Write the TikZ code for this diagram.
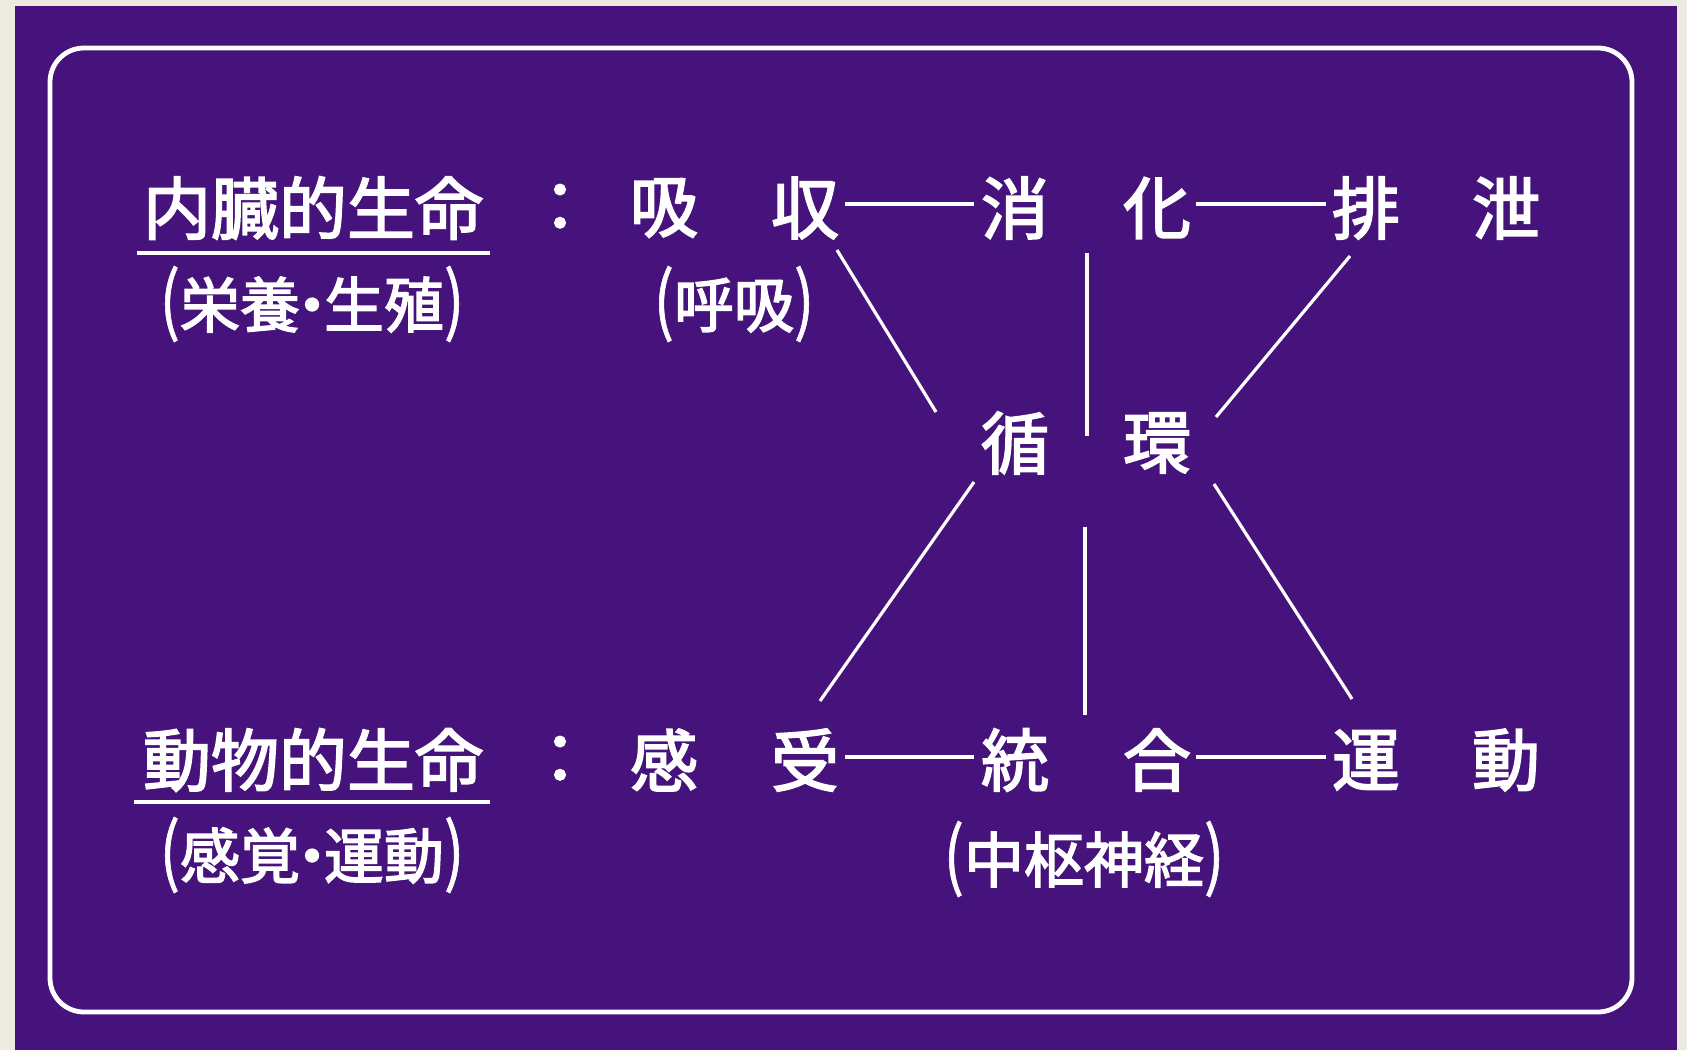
\documentclass[tikz,border=0pt]{standalone}
\usepackage{fontspec}
\newfontfamily\jp[FakeBold=2.5]{Noto Sans CJK JP}
\newfontfamily\jpthin[FakeBold=1]{Noto Sans CJK JP}
\usetikzlibrary{calc}
\definecolor{bgbeige}{RGB}{237,235,225}
\definecolor{deepviolet}{RGB}{70,19,124}
\newcommand{\lp}{{\jpthin\scalebox{1}[1.25]{(}}}
\newcommand{\rp}{{\jpthin\scalebox{1}[1.25]{)}}}
\begin{document}
\begin{tikzpicture}[x=0.5pt,y=-0.5pt,
  big/.style={text=white,font=\jp\fontsize{34pt}{34pt}\selectfont,inner sep=0pt},
  small/.style={text=white,font=\jp\fontsize{30pt}{30pt}\selectfont,inner sep=0pt},
  conn/.style={draw=white,line width=1.6pt},
  uline/.style={draw=white,line width=2pt},
  frame/.style={draw=white,line width=2.4pt,rounded corners=17pt}]
\useasboundingbox (0,0) rectangle (1687,1050);
\fill[bgbeige] (0,0) rectangle (1687,1050);
\fill[deepviolet] (15,6) rectangle (1677,1050);
\draw[frame] (50,48) rectangle (1632,1012);

% row 1
\node[big] (t1) at (313,208) {内臓的生命};
\node[small] (s1) at (312,304) {\lp 栄養\kern-0.3em・\kern-0.3em生殖\rp};
\draw[uline] (137,253) -- (490,253);
\node[big] (c1) at (560,208) {：};
\node[big] (kyu) at (664,208) {吸};
\node[big] (shu) at (805,208) {収};
\node[small] (kokyu) at (734,304) {\lp 呼吸\rp};
\node[big] (sho) at (1015,208) {消};
\node[big] (ka) at (1157,208) {化};
\node[big] (hai) at (1366,208) {排};
\node[big] (setsu) at (1506,208) {泄};

% middle
\node[big] (jun) at (1015,443) {循};
\node[big] (kan) at (1157,443) {環};

% row 2
\node[big] (t2) at (313,760) {動物的生命};
\node[small] (s2) at (312,855) {\lp 感覚\kern-0.3em・\kern-0.3em運動\rp};
\draw[uline] (134,802) -- (490,802);
\node[big] (c2) at (560,760) {：};
\node[big] (kan2) at (664,760) {感};
\node[big] (ju) at (805,760) {受};
\node[big] (to) at (1015,760) {統};
\node[big] (go) at (1157,760) {合};
\node[small] (chusu) at (1084,859) {\lp 中枢神経\rp};
\node[big] (un) at (1366,760) {運};
\node[big] (do) at (1506,760) {動};

% horizontal connectors
\draw[conn] ($(shu)+(40,-4)$) -- ($(sho)+(-41,-4)$);
\draw[conn] ($(ka)+(39,-4)$) -- ($(hai)+(-40,-4)$);
\draw[conn] ($(ju)+(40,-3)$) -- ($(to)+(-41,-3)$);
\draw[conn] ($(go)+(39,-3)$) -- ($(un)+(-40,-3)$);

% diagonal connectors
\draw[conn] ($(shu)+(32,42)$) -- ($(jun)+(-79,-31)$);
\draw[conn] ($(hai)+(-16,48)$) -- ($(kan)+(59,-26)$);
\draw[conn] ($(jun)+(-41,39)$) -- ($(ju)+(15,-59)$);
\draw[conn] ($(kan)+(57,41)$) -- ($(un)+(-14,-61)$);

% vertical connectors
\draw[conn] ($(sho)!0.5!(ka)+(1,45)$) -- ($(jun)!0.5!(kan)+(1,-7)$);
\draw[conn] ($(jun)!0.5!(kan)+(-1,84)$) -- ($(to)!0.5!(go)+(-1,-45)$);
\end{tikzpicture}
\end{document}
